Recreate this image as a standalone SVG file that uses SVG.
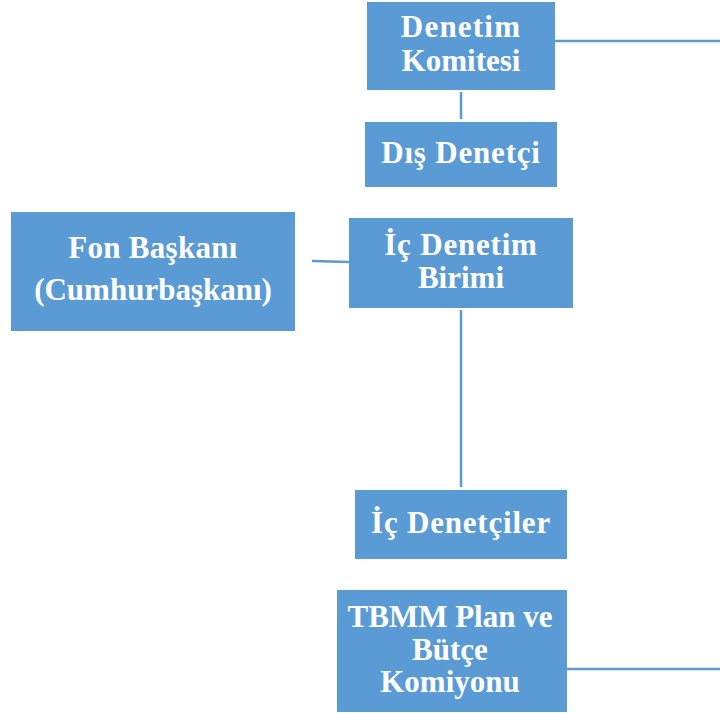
<svg xmlns="http://www.w3.org/2000/svg" width="720" height="713" viewBox="0 0 720 713">
  <style>
    .box { fill: #5B9BD5; }
    .lbl { fill: #FFFFFF; font-family: "Liberation Serif", "Times New Roman", serif; font-weight: bold; font-size: 31px; text-anchor: middle; }
    .wire { stroke: #5B9BD5; stroke-width: 2.5; fill: none; }
  </style>
  <rect width="720" height="713" fill="#FFFFFF"/>
  <g id="connectors">
    <line class="wire" x1="555" y1="41" x2="720" y2="41"/>
    <line class="wire" x1="461" y1="92" x2="461" y2="119"/>
    <line class="wire" x1="312" y1="261" x2="349" y2="262"/>
    <line class="wire" x1="461" y1="310" x2="461" y2="487"/>
    <line class="wire" x1="567" y1="669" x2="720" y2="669"/>
  </g>
  <g id="denetim-komitesi">
    <rect class="box" x="367" y="2" width="188" height="88"/>
    <text class="lbl" x="461" y="37" letter-spacing="1.2">Denetim</text>
    <text class="lbl" x="461" y="71">Komitesi</text>
  </g>
  <g id="dis-denetci">
    <rect class="box" x="365" y="122" width="192" height="65"/>
    <text class="lbl" x="461" y="163" letter-spacing="0.8">Dış Denetçi</text>
  </g>
  <g id="fon-baskani">
    <rect class="box" x="11" y="212" width="284" height="119"/>
    <text class="lbl" x="153" y="258" letter-spacing="0.3">Fon Başkanı</text>
    <text class="lbl" x="153" y="300">(Cumhurbaşkanı)</text>
  </g>
  <g id="ic-denetim-birimi">
    <rect class="box" x="349" y="218" width="224" height="90"/>
    <text class="lbl" x="461" y="255" letter-spacing="0.8">İç Denetim</text>
    <text class="lbl" x="461" y="288">Birimi</text>
  </g>
  <g id="ic-denetciler">
    <rect class="box" x="355" y="490" width="212" height="69"/>
    <text class="lbl" x="461" y="533" letter-spacing="0.8">İç Denetçiler</text>
  </g>
  <g id="tbmm-plan-butce">
    <rect class="box" x="337" y="590" width="230" height="122"/>
    <text class="lbl" x="450" y="627">TBMM Plan ve</text>
    <text class="lbl" x="450" y="660">Bütçe</text>
    <text class="lbl" x="450" y="692">Komiyonu</text>
  </g>
</svg>
